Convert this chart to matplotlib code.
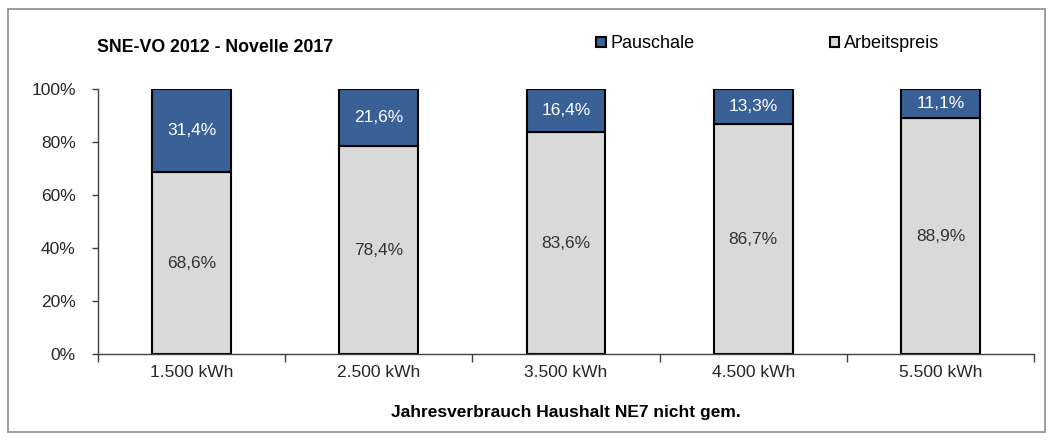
import matplotlib
matplotlib.use("Agg")
import matplotlib.pyplot as plt
from matplotlib.patches import Rectangle
import numpy as np

plt.rcParams['font.family'] = ['Liberation Sans', 'DejaVu Sans']

categories = ["1.500 kWh", "2.500 kWh", "3.500 kWh", "4.500 kWh", "5.500 kWh"]
arbeitspreis = [68.6, 78.4, 83.6, 86.7, 88.9]
pauschale = [31.4, 21.6, 16.4, 13.3, 11.1]
yticks = [0, 20, 40, 60, 80, 100]

blue = "#3A6196"
gray = "#D9D9D9"
fs = 12.5

fig = plt.figure(figsize=(10.53, 4.43), dpi=100)
fig.patches.append(Rectangle((8/1053, 1-432/443), (1045-8)/1053, (432-9)/443,
                             transform=fig.transFigure, fill=False,
                             edgecolor="#8C8C8C", linewidth=1.2))
ax = fig.add_axes([98/1053, 1-354/443, (1034-98)/1053, (354-89)/443])

x = np.arange(len(categories))
w = 0.42
ax.bar(x, arbeitspreis, width=w, color=gray, edgecolor="black", linewidth=1.5,
       label="Arbeitspreis")
ax.bar(x, pauschale, width=w, bottom=arbeitspreis, color=blue, edgecolor="black",
       linewidth=1.5, label="Pauschale")

for i in range(len(categories)):
    ax.text(x[i], arbeitspreis[i] / 2, f"{arbeitspreis[i]:.1f}%".replace(".", ","),
            ha="center", va="center", fontsize=fs, color="#333333")
    ax.text(x[i], arbeitspreis[i] + pauschale[i] / 2, f"{pauschale[i]:.1f}%".replace(".", ","),
            ha="center", va="center", fontsize=fs, color="white")

ax.set_xlim(-0.5, len(categories) - 0.5)
ax.set_ylim(0, 100)
ax.set_yticks(yticks)
ax.set_yticklabels([f"{v}%" for v in yticks], fontsize=fs, color="#262626")
ax.set_xticks(x)
ax.set_xticklabels(categories, fontsize=fs, color="#262626")
ax.tick_params(axis="x", length=0, pad=8)
ax.set_xticks(np.arange(len(categories) + 1) - 0.5, minor=True)
ax.tick_params(axis="x", which="minor", length=6, width=1, color="#404040")
ax.tick_params(axis="y", length=4, width=1, color="#404040", pad=12)
for s in ["top", "right"]:
    ax.spines[s].set_visible(False)
for s in ["left", "bottom"]:
    ax.spines[s].set_color("#404040")
    ax.spines[s].set_linewidth(1)

ax.set_xlabel("Jahresverbrauch Haushalt NE7 nicht gem.", fontsize=fs, fontweight="bold",
              labelpad=18)
fig.text(97/1053, 1-48/443, "SNE-VO 2012 - Novelle 2017", fontsize=12.8, fontweight="bold",
         ha="left", va="center")

h, l = ax.get_legend_handles_labels()
fig.legend([h[1], h[0]], [l[1], l[0]], loc="center left", bbox_to_anchor=(589/1053, 1-44/443),
           ncol=2, frameon=False, fontsize=13, handlelength=0.53, handleheight=0.53,
           handletextpad=0.25, columnspacing=7.5, borderaxespad=0)

fig.savefig("out.png", dpi=100)
